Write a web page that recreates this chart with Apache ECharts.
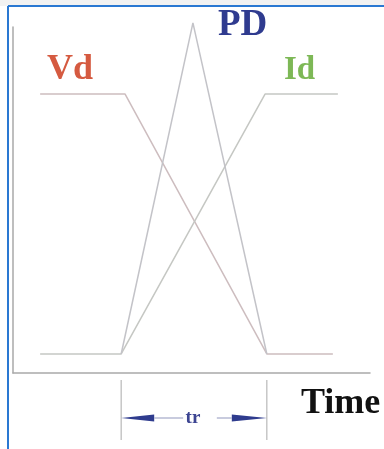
<!DOCTYPE html>
<html>
<head>
<meta charset="utf-8">
<script src="https://cdn.jsdelivr.net/npm/echarts@6/dist/echarts.min.js"></script>
<style>
  html, body { margin: 0; padding: 0; background: #fff; }
  #chart { width: 384px; height: 449px; }
</style>
</head>
<body>
<div id="chart"></div>
<script>
// switching waveform, time axis 0..100, level axis 0..100
const vdX = [7.6, 31.4, 71.1, 89.6]
const vdY = [80.6, 80.6, 5.5, 5.5]
const idX = [7.6, 30.3, 70.6, 91.0]
const idY = [5.5, 5.5, 80.6, 80.6]
const pdX = [30.3, 50.4, 71.1]
const pdY = [5.5, 101.2, 5.5]
const trStart = 30.3
const trEnd = 71.1

const zip = (xs, ys) => xs.map((x, i) => [x, ys[i]])
const serif = '"Liberation Serif", "DejaVu Serif", serif'

const chart = echarts.init(document.getElementById('chart'))

const lineSeries = (name, xs, ys, color) => ({
    name,
    type: 'line',
    data: zip(xs, ys),
    symbol: 'none',
    clip: false,
    silent: true,
    animation: false,
    lineStyle: { color, width: 1.5 }
})

chart.setOption({
    backgroundColor: '#fff',
    grid: { left: 13, right: 14, top: 27, bottom: 76 },
    xAxis: {
        type: 'value', min: 0, max: 100,
        axisLine: { lineStyle: { color: '#a9a9a9', width: 1.5 } },
        axisTick: { show: false }, axisLabel: { show: false }, splitLine: { show: false }
    },
    yAxis: {
        type: 'value', min: 0, max: 100,
        axisLine: { show: true, lineStyle: { color: '#a9a9a9', width: 1.5 } },
        axisTick: { show: false }, axisLabel: { show: false }, splitLine: { show: false }
    },
    series: [
        lineSeries('Vd', vdX, vdY, '#cdbdbf'),
        lineSeries('Id', idX, idY, '#c5c7c3'),
        lineSeries('PD', pdX, pdY, '#c3c3c8')
    ]
})

// annotations below the axis, placed from the tr data values
const x0 = chart.convertToPixel({ xAxisIndex: 0 }, trStart)
const x1 = chart.convertToPixel({ xAxisIndex: 0 }, trEnd)
const ay = 418
const blue = '#2f3c8e'

chart.setOption({
    graphic: [
        // window frame
        { type: 'rect', shape: { x: 0, y: 0, width: 384, height: 6 }, style: { fill: '#f2f2f2' }, silent: true },
        { type: 'line', shape: { x1: 8, y1: 6, x2: 384, y2: 6 }, style: { stroke: '#2a78d2', lineWidth: 2 }, silent: true },
        { type: 'line', shape: { x1: 8, y1: 6, x2: 8, y2: 449 }, style: { stroke: '#2a78d2', lineWidth: 2 }, silent: true },
        // labels
        { type: 'text', left: 47, top: 52, style: { text: 'Vd', fill: '#d55a40', font: 'bold 36px ' + serif } },
        { type: 'text', left: 218, top: 7, style: { text: 'PD', fill: '#2f3b8f', font: 'bold 37px ' + serif } },
        { type: 'text', left: 284, top: 54, style: { text: 'Id', fill: '#7db856', font: 'bold 33px ' + serif } },
        { type: 'text', left: 301, top: 386, style: { text: 'Time', fill: '#111', font: 'bold 36px ' + serif } },
        // tr markers
        { type: 'line', shape: { x1: x0, y1: 380, x2: x0, y2: 440 }, style: { stroke: '#b8b8b8', lineWidth: 1.2 }, silent: true },
        { type: 'line', shape: { x1: x1, y1: 380, x2: x1, y2: 440 }, style: { stroke: '#b8b8b8', lineWidth: 1.2 }, silent: true },
        { type: 'polygon', shape: { points: [[x0, ay], [x0 + 33, ay - 3.5], [x0 + 33, ay + 3.5]] }, style: { fill: blue }, silent: true },
        { type: 'line', shape: { x1: x0 + 33, y1: ay, x2: x0 + 62, y2: ay }, style: { stroke: '#a3a8c8', lineWidth: 1.2 }, silent: true },
        { type: 'polygon', shape: { points: [[x1, ay], [x1 - 35, ay - 3.5], [x1 - 35, ay + 3.5]] }, style: { fill: blue }, silent: true },
        { type: 'line', shape: { x1: x1 - 35, y1: ay, x2: x1 - 50, y2: ay }, style: { stroke: '#a3a8c8', lineWidth: 1.2 }, silent: true },
        { type: 'text', x: (x0 + x1) / 2 - 1, y: ay, style: { text: 'tr', fill: '#3d4592', font: 'bold 19px ' + serif, align: 'center', verticalAlign: 'middle' } }
    ]
})
</script>
</body>
</html>
